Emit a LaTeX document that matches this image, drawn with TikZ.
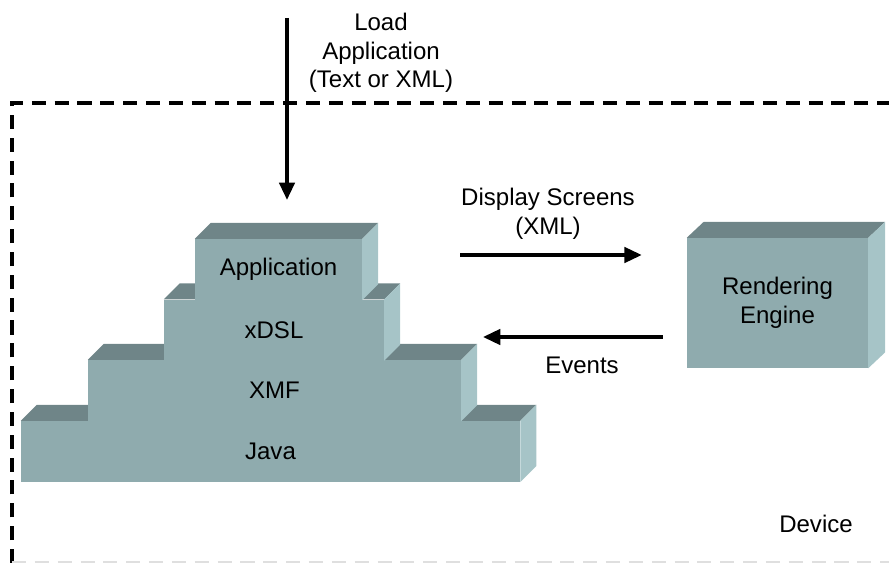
\documentclass[tikz,border=0pt]{standalone}
\usepackage{fontspec}
\setmainfont{Liberation Sans}
\usetikzlibrary{arrows.meta,calc}

\definecolor{frontcol}{RGB}{143,171,174}
\definecolor{topcol}{RGB}{111,133,136}
\definecolor{sidecol}{RGB}{166,196,199}

\tikzset{
    block/.style={fill=frontcol, inner sep=0pt, minimum height=1.82cm},
    topface/.style={fill=topcol},
    sideface/.style={fill=sidecol},
    flow/.style={line width=3pt, -{Triangle[length=5.2mm,width=4.6mm]}},
    label/.style={align=center, inner sep=0pt},
    border/.style={line width=3pt, dash pattern=on 12pt off 7.5pt}
}

\begin{document}
\begin{tikzpicture}[x=0.03cm, y=-0.03cm,
        font=\fontsize{20.5}{24.3}\selectfont]
        \useasboundingbox (0,0) rectangle (889,563);

        % Граница устройства.
        \draw[border] (12,563) -- (12,103) -- (892,103);
        \draw[border, gray!25, line width=1.2pt] (12,562) -- (892,562);
        \node[label] (device) at (816,524) {Device};

        % Стек: снизу вверх.
        \foreach \n/\cx/\cy/\w/\t in {java/270.5/451.5/14.97/Java,
                xmf/274.5/390.5/11.19/XMF,
                xdsl/274/330/6.6/xDSL,
                app/278.5/269.5/5.01/Application} {
            \node[block, minimum width=\w cm] (\n) at (\cx,\cy) {\t};
            \fill[topface] (\n.north west) -- ++(16,-16)
                -- ([shift={(16,-16)}]\n.north east) -- (\n.north east) -- cycle;
            \fill[sideface] (\n.north east) -- ++(16,-16)
                -- ([shift={(16,-16)}]\n.south east) -- (\n.south east) -- cycle;
        }

        % Движок отрисовки.
        \node[block, minimum width=5.43cm, minimum height=3.9cm,
            align=center] (engine) at (777.5,303) {Rendering\\Engine};
        \fill[topface] (engine.north west) -- ++(17,-16)
            -- ([shift={(17,-16)}]engine.north east) -- (engine.north east) -- cycle;
        \fill[sideface] (engine.north east) -- ++(17,-16)
            -- ([shift={(17,-16)}]engine.south east) -- (engine.south east) -- cycle;

        % Загрузка приложения.
        \coordinate (loadtop) at (287,18);
        \draw[flow, shorten >=1.17cm] (loadtop) -- (app.north -| loadtop);
        \node[label] (loadtxt) at (381,53) {Load\\Application\\(Text or XML)};

        % Экраны и события.
        \coordinate (dispstart) at (460,255);
        \draw[flow, shorten >=1.35cm] (dispstart) -- (engine.west |- dispstart);
        \node[label] (disptxt) at (548,214) {Display Screens\\(XML)};

        \coordinate (evtend) at (483,337);
        \draw[flow, shorten <=0.72cm] (engine.west |- evtend) -- (evtend);
        \node[label] (evttxt) at (582,365) {Events};
    \end{tikzpicture}
\end{document}
